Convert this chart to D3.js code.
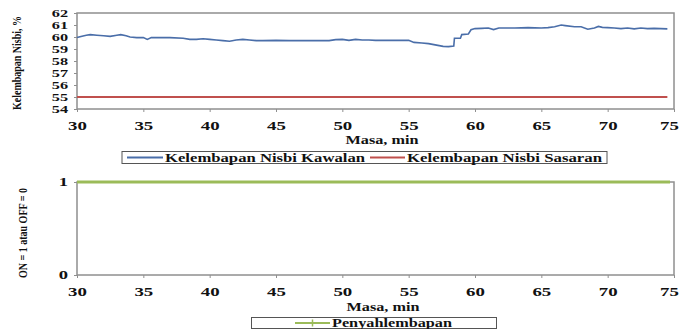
<!DOCTYPE html>
<html>
<head>
<meta charset="utf-8">
<script src="https://cdn.jsdelivr.net/npm/d3@7/dist/d3.min.js"></script>
<style>
  html, body { margin: 0; padding: 0; background: #fff; }
  svg { display: block; }
  text { font-family: "Liberation Serif", "Times New Roman", serif; font-weight: bold; fill: #111; }
</style>
</head>
<body>
<script>
// Measured relative humidity (control run), minutes vs %
const timeMin = [30, 30.3, 30.7, 31, 31.5, 32, 32.5, 33, 33.3, 33.7, 34, 34.5, 35, 35.3, 35.6, 36, 37, 38, 38.5, 39, 39.5, 40, 40.5, 41, 41.5, 42, 42.5, 43, 43.5, 44, 45, 46, 47, 48, 49, 49.5, 50, 50.5, 51, 51.5, 52, 52.5, 53, 54, 55, 55.4, 56, 56.5, 57.2, 57.6, 58, 58.4, 58.45, 58.9, 59.0, 59.5, 59.7, 60, 60.5, 61, 61.4, 61.8, 62.5, 63, 64, 65, 65.5, 66, 66.5, 66.8, 67.5, 68, 68.5, 69, 69.3, 69.6, 70, 70.5, 71, 71.5, 72, 72.5, 73, 73.5, 74, 74.5];
const rhKawalan = [59.95, 60.05, 60.15, 60.2, 60.15, 60.1, 60.05, 60.15, 60.2, 60.1, 60.0, 59.95, 59.95, 59.8, 59.95, 59.95, 59.95, 59.9, 59.8, 59.8, 59.85, 59.8, 59.75, 59.7, 59.65, 59.75, 59.8, 59.75, 59.7, 59.7, 59.72, 59.7, 59.7, 59.7, 59.7, 59.78, 59.8, 59.72, 59.8, 59.75, 59.75, 59.72, 59.72, 59.72, 59.72, 59.55, 59.5, 59.45, 59.3, 59.22, 59.2, 59.25, 59.9, 59.9, 60.2, 60.25, 60.6, 60.7, 60.72, 60.75, 60.62, 60.75, 60.75, 60.75, 60.78, 60.75, 60.78, 60.85, 61.0, 60.95, 60.85, 60.85, 60.65, 60.75, 60.88, 60.8, 60.78, 60.75, 60.7, 60.75, 60.68, 60.75, 60.7, 60.72, 60.7, 60.68];

// Target humidity and dehumidifier state over the same run
const targetTime = [30, 74.5];
const rhSasaran = [55, 55];
const dehumTime = [30, 74.7];
const dehumState = [1, 1];

const xTicks = [30, 35, 40, 45, 50, 55, 60, 65, 70, 75];
const yTicksRH = [54, 55, 56, 57, 58, 59, 60, 61, 62];
const yTicksState = [0, 1];

const xTitle = "Masa, min";
const yTitleRH = "Kelembapan Nisbi, %";
const yTitleState = "ON = 1 atau OFF = 0";
const legendRH = ["Kelembapan Nisbi Kawalan", "Kelembapan Nisbi Sasaran"];
const legendState = ["Penyahlembapan"];

const W = 680, H = 329;
const colBlue = "#4a6ea9", colRed = "#c0504d", colGreen = "#9bbb59", colFrame = "#8f8f8f";

const svg = d3.select("body").append("svg").attr("width", W).attr("height", H);

const x = d3.scaleLinear().domain([30, 75]).range([77, 674]);

// horizontally widened label, centred on (cx, cy), optionally turned upright
function wideText(cx, cy, str, size, width, rotate) {
  const t = svg.append("text").attr("text-anchor", "middle").attr("font-size", size).text(str);
  const sx = width / t.node().getComputedTextLength();
  t.attr("transform", `translate(${cx},${cy})${rotate ? " rotate(-90)" : ""} scale(${sx},1)`);
  return t;
}

function panel(yScale, yTicks, top, bottom, yFont) {
  const g = svg.append("g");
  g.append("rect")
    .attr("x", x.range()[0]).attr("y", top)
    .attr("width", x.range()[1] - x.range()[0]).attr("height", bottom - top)
    .attr("fill", "none").attr("stroke", colFrame).attr("stroke-width", 1.5);

  const sy = 1.55;
  const ya = g.append("g").attr("transform", `translate(${x.range()[0]},0)`)
    .call(d3.axisLeft(yScale).tickValues(yTicks).tickSize(3).tickPadding(6).tickFormat(d3.format("d")));
  ya.select(".domain").remove();
  ya.selectAll("line").attr("stroke", colFrame);
  ya.selectAll("text").attr("font-size", yFont).attr("fill", "#111").attr("font-family", null)
    .attr("x", -9 / sy).attr("transform", `scale(${sy},1)`);

  const sxx = 1.45;
  const xa = g.append("g").attr("transform", `translate(0,${bottom})`)
    .call(d3.axisBottom(x).tickValues(xTicks).tickSize(3).tickPadding(9).tickFormat(d3.format("d")));
  xa.select(".domain").remove();
  xa.selectAll("line").attr("stroke", colFrame);
  xa.selectAll("text").attr("font-size", 13).attr("fill", "#111").attr("font-family", null)
    .attr("transform", `scale(${sxx},1)`);
  // keep the last label inside the page edge
  xa.selectAll("text").filter(d => d === xTicks[xTicks.length - 1]).attr("x", -5 / sxx);
  return g;
}

/* ---------- upper panel: relative humidity ---------- */
const y1 = d3.scaleLinear().domain([54, 62]).range([109, 13]);
panel(y1, yTicksRH, 13, 109, 10.5);

const line1 = d3.line().x(d => x(d[0])).y(d => y1(d[1]));
svg.append("path")
  .datum(timeMin.map((t, i) => [t, rhKawalan[i]]))
  .attr("d", line1).attr("fill", "none").attr("stroke", colBlue).attr("stroke-width", 1.6);
svg.append("path")
  .datum(targetTime.map((t, i) => [t, rhSasaran[i]]))
  .attr("d", line1).attr("fill", "none").attr("stroke", colRed).attr("stroke-width", 1.8);

wideText(382, 144, xTitle, 12, 73, false);
wideText(21, 63, yTitleRH, 12.5, 94, true);

const lg1 = svg.append("g");
lg1.append("rect").attr("x", 122).attr("y", 151.5).attr("width", 485).attr("height", 12)
  .attr("fill", "#fff").attr("stroke", "#555").attr("stroke-width", 1);
lg1.append("line").attr("x1", 127).attr("x2", 163).attr("y1", 157.5).attr("y2", 157.5)
  .attr("stroke", colBlue).attr("stroke-width", 2);
lg1.append("text").attr("x", 165).attr("y", 161.5).attr("font-size", 12)
  .text(legendRH[0]).attr("textLength", 200).attr("lengthAdjust", "spacingAndGlyphs");
lg1.append("line").attr("x1", 370).attr("x2", 405).attr("y1", 157.5).attr("y2", 157.5)
  .attr("stroke", colRed).attr("stroke-width", 2);
lg1.append("text").attr("x", 407).attr("y", 161.5).attr("font-size", 12)
  .text(legendRH[1]).attr("textLength", 195).attr("lengthAdjust", "spacingAndGlyphs");

/* ---------- lower panel: dehumidifier state ---------- */
const y2 = d3.scaleLinear().domain([0, 1]).range([275, 182]);
panel(y2, yTicksState, 182, 275, 12);

const line2 = d3.line().x(d => x(d[0])).y(d => y2(d[1]));
svg.append("path")
  .datum(dehumTime.map((t, i) => [t, dehumState[i]]))
  .attr("d", line2).attr("fill", "none").attr("stroke", colGreen).attr("stroke-width", 3);

wideText(383, 311, xTitle, 12, 73, false);
wideText(27, 233, yTitleState, 12, 90, true);

const lg2 = svg.append("g");
lg2.append("rect").attr("x", 251.5).attr("y", 317.5).attr("width", 245).attr("height", 11)
  .attr("fill", "#fff").attr("stroke", "#555").attr("stroke-width", 1);
lg2.append("line").attr("x1", 295).attr("x2", 330).attr("y1", 323).attr("y2", 323)
  .attr("stroke", colGreen).attr("stroke-width", 2);
lg2.append("path").attr("d", "M309,323h7M312.5,319.5v7").attr("stroke", colGreen).attr("stroke-width", 1.5);
lg2.append("text").attr("x", 332).attr("y", 327).attr("font-size", 12)
  .text(legendState[0]).attr("textLength", 120).attr("lengthAdjust", "spacingAndGlyphs");
</script>
</body>
</html>
